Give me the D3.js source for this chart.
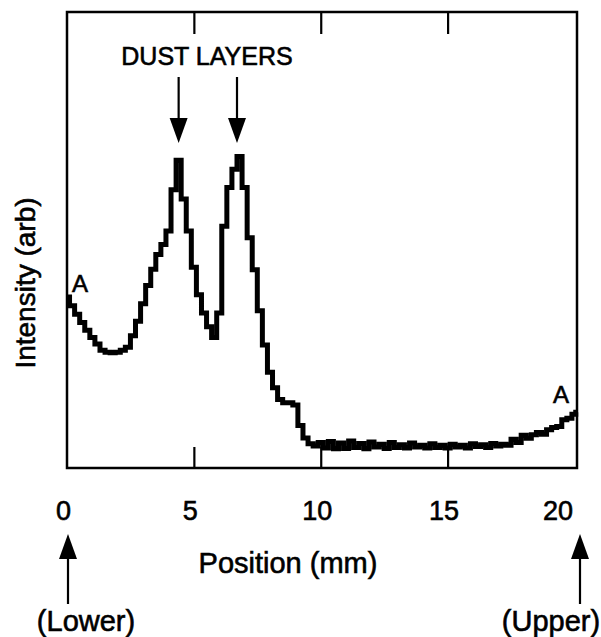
<!DOCTYPE html>
<html>
<head>
<meta charset="utf-8">
<script src="https://cdn.jsdelivr.net/npm/d3@7"></script>
<style>
  body { margin: 0; background: #fff; }
  svg { display: block; font-family: "Liberation Sans", Arial, Helvetica, sans-serif; }
  text { fill: #000; stroke: #000; stroke-width: 0.6px; }
</style>
</head>
<body>
<svg id="chart" width="601" height="637"></svg>
<script>
var positions = [
    0.0, 0.2, 0.4, 0.6, 0.8, 1.0, 1.2, 1.4, 1.6, 1.8,
    2.0, 2.2, 2.4, 2.6, 2.8, 3.0, 3.2, 3.4, 3.6, 3.8,
    4.0, 4.2, 4.4, 4.6, 4.8, 5.0, 5.2, 5.4, 5.6, 5.8,
    6.0, 6.2, 6.4, 6.6, 6.8, 7.0, 7.2, 7.4, 7.6, 7.8,
    8.0, 8.2, 8.4, 8.6, 8.8, 9.0, 9.2, 9.4, 9.6, 9.8,
    10.0, 10.2, 10.4, 10.6, 10.8, 11.0, 11.2, 11.4, 11.6, 11.8,
    12.0, 12.2, 12.4, 12.6, 12.8, 13.0, 13.2, 13.4, 13.6, 13.8,
    14.0, 14.2, 14.4, 14.6, 14.8, 15.0, 15.2, 15.4, 15.6, 15.8,
    16.0, 16.2, 16.4, 16.6, 16.8, 17.0, 17.2, 17.4, 17.6, 17.8,
    18.0, 18.2, 18.4, 18.6, 18.8, 19.0, 19.2, 19.4, 19.6, 19.8,
    20.0, 20.1
];

// intensity (arb units, 0 = box bottom, 100 = box top)
var intensity = [
    37.5, 35.6, 33.7, 31.9, 30.2, 28.6, 27.2, 25.8, 25.4, 25.3,
    25.4, 25.8, 26.5, 29.0, 32.2, 36.0, 40.0, 43.6, 46.8, 49.0,
    52.0, 61.0, 67.5, 59.0, 52.0, 44.0, 38.0, 34.0, 31.0, 28.6,
    34.0, 53.0, 61.5, 65.5, 68.3, 61.5, 50.5, 43.5, 34.5, 27.0,
    21.0, 17.6, 15.0, 14.3, 14.3, 13.8, 9.3, 6.6, 5.3, 4.8,
    5.6, 4.4, 5.8, 4.2, 5.5, 4.3, 5.9, 4.5, 5.4, 4.2,
    5.7, 4.6, 5.2, 4.3, 5.6, 4.5, 5.1, 4.4, 5.5, 4.6,
    5.0, 4.4, 5.3, 4.5, 5.0, 4.4, 5.2, 4.6, 5.0, 4.4,
    5.3, 4.7, 5.1, 4.5, 5.4, 4.8, 5.2, 5.0, 6.3, 5.6,
    7.2, 6.5, 7.3, 7.8, 7.4, 8.4, 8.9, 9.1, 10.6, 10.9,
    11.8, 12.2
];

var xTicks = [5, 10, 15];
var xTickLabels = [0, 5, 10, 15, 20];
var dustPeaks = [4.4, 6.7];      // marked "DUST LAYERS"
var endMarks = [
    { pos: 0, label: "(Lower)" },
    { pos: 20.1, label: "(Upper)" }
];

// plot box (note: "top" is taken by window.top, so use box* names)
var boxL = 67, boxR = 577, boxT = 12, boxB = 468;

var svg = d3.select("#chart");

var x = d3.scaleLinear().domain([0, 20.1]).range([boxL, boxR]);
var y = d3.scaleLinear().domain([0, 100]).range([boxB, boxT]);

var data = positions.map(function(p, i) { return { pos: p, val: intensity[i] }; });

// inner ticks, bottom edge
svg.append("g")
    .attr("transform", "translate(0," + boxB + ")")
    .call(d3.axisTop(x).tickValues(xTicks).tickSize(21).tickFormat(""))
    .call(function(g) { g.select(".domain").remove(); })
    .selectAll("line").attr("stroke", "#000").attr("stroke-width", 2.2);

// inner ticks, top edge
svg.append("g")
    .attr("transform", "translate(0," + boxT + ")")
    .call(d3.axisBottom(x).tickValues(xTicks).tickSize(22).tickFormat(""))
    .call(function(g) { g.select(".domain").remove(); })
    .selectAll("line").attr("stroke", "#000").attr("stroke-width", 2.2);

// tick numbers sit well below the box
var lab = svg.append("g")
    .attr("transform", "translate(0," + boxB + ")")
    .call(d3.axisBottom(x).tickValues(xTickLabels).tickSize(0).tickPadding(33).tickFormat(d3.format("d")));
lab.select(".domain").remove();
lab.selectAll("text")
    .attr("font-family", null)
    .style("font-size", "27px")
    .attr("fill", "#000")
    .attr("dx", -4)
    .filter(function(d) { return d === 20; })
    .attr("text-anchor", "end")
    .attr("dx", -2);

// the trace - digitised look, so stepped
var line = d3.line()
    .x(function(d) { return x(d.pos); })
    .y(function(d) { return y(d.val); })
    .curve(d3.curveStep);

svg.append("path")
    .datum(data)
    .attr("d", line)
    .attr("fill", "none")
    .attr("stroke", "#000")
    .attr("stroke-width", 5)
    .attr("stroke-linejoin", "miter");

// frame
svg.append("rect")
    .attr("x", boxL).attr("y", boxT)
    .attr("width", boxR - boxL).attr("height", boxB - boxT)
    .attr("fill", "none")
    .attr("stroke", "#000")
    .attr("stroke-width", 2.5);

// "A" marks at both ends
svg.append("text").attr("x", boxL + 5).attr("y", 292)
    .style("font-size", "24px").text("A");
svg.append("text").attr("x", boxR - 24).attr("y", 403)
    .style("font-size", "24px").text("A");

// arrow helper: vertical shaft + filled head
function arrow(g, cx, yTail, yBase, yTip) {
    g.append("line")
        .attr("x1", cx).attr("x2", cx)
        .attr("y1", yTail).attr("y2", yBase)
        .attr("stroke", "#000").attr("stroke-width", 2.2);
    g.append("path")
        .attr("d", "M" + (cx - 9) + "," + yBase + "L" + (cx + 9) + "," + yBase + "L" + cx + "," + yTip + "Z")
        .attr("fill", "#000");
}

// DUST LAYERS label + arrows
svg.append("text")
    .attr("x", 207).attr("y", 65)
    .attr("text-anchor", "middle")
    .style("font-size", "25px")
    .text("DUST LAYERS");

var dustG = svg.append("g");
dustPeaks.forEach(function(p) { arrow(dustG, x(p), 77, 118, 143); });

// Lower / Upper arrows below the axis
var endG = svg.append("g");
endMarks.forEach(function(m, i) {
    var cx = x(m.pos) + (i === 0 ? 1 : 3);
    arrow(endG, cx, 604, 559, 534);
    endG.append("text")
        .attr("x", i === 0 ? 86 : 551).attr("y", 631)
        .attr("text-anchor", "middle")
        .style("font-size", "29px")
        .text(m.label);
});

// axis titles
svg.append("text")
    .attr("x", 288).attr("y", 573)
    .attr("text-anchor", "middle")
    .style("font-size", "29px")
    .text("Position (mm)");

svg.append("text")
    .attr("transform", "translate(35,283) rotate(-90)")
    .attr("text-anchor", "middle")
    .style("font-size", "28px")
    .text("Intensity (arb)");
</script>
</body>
</html>
